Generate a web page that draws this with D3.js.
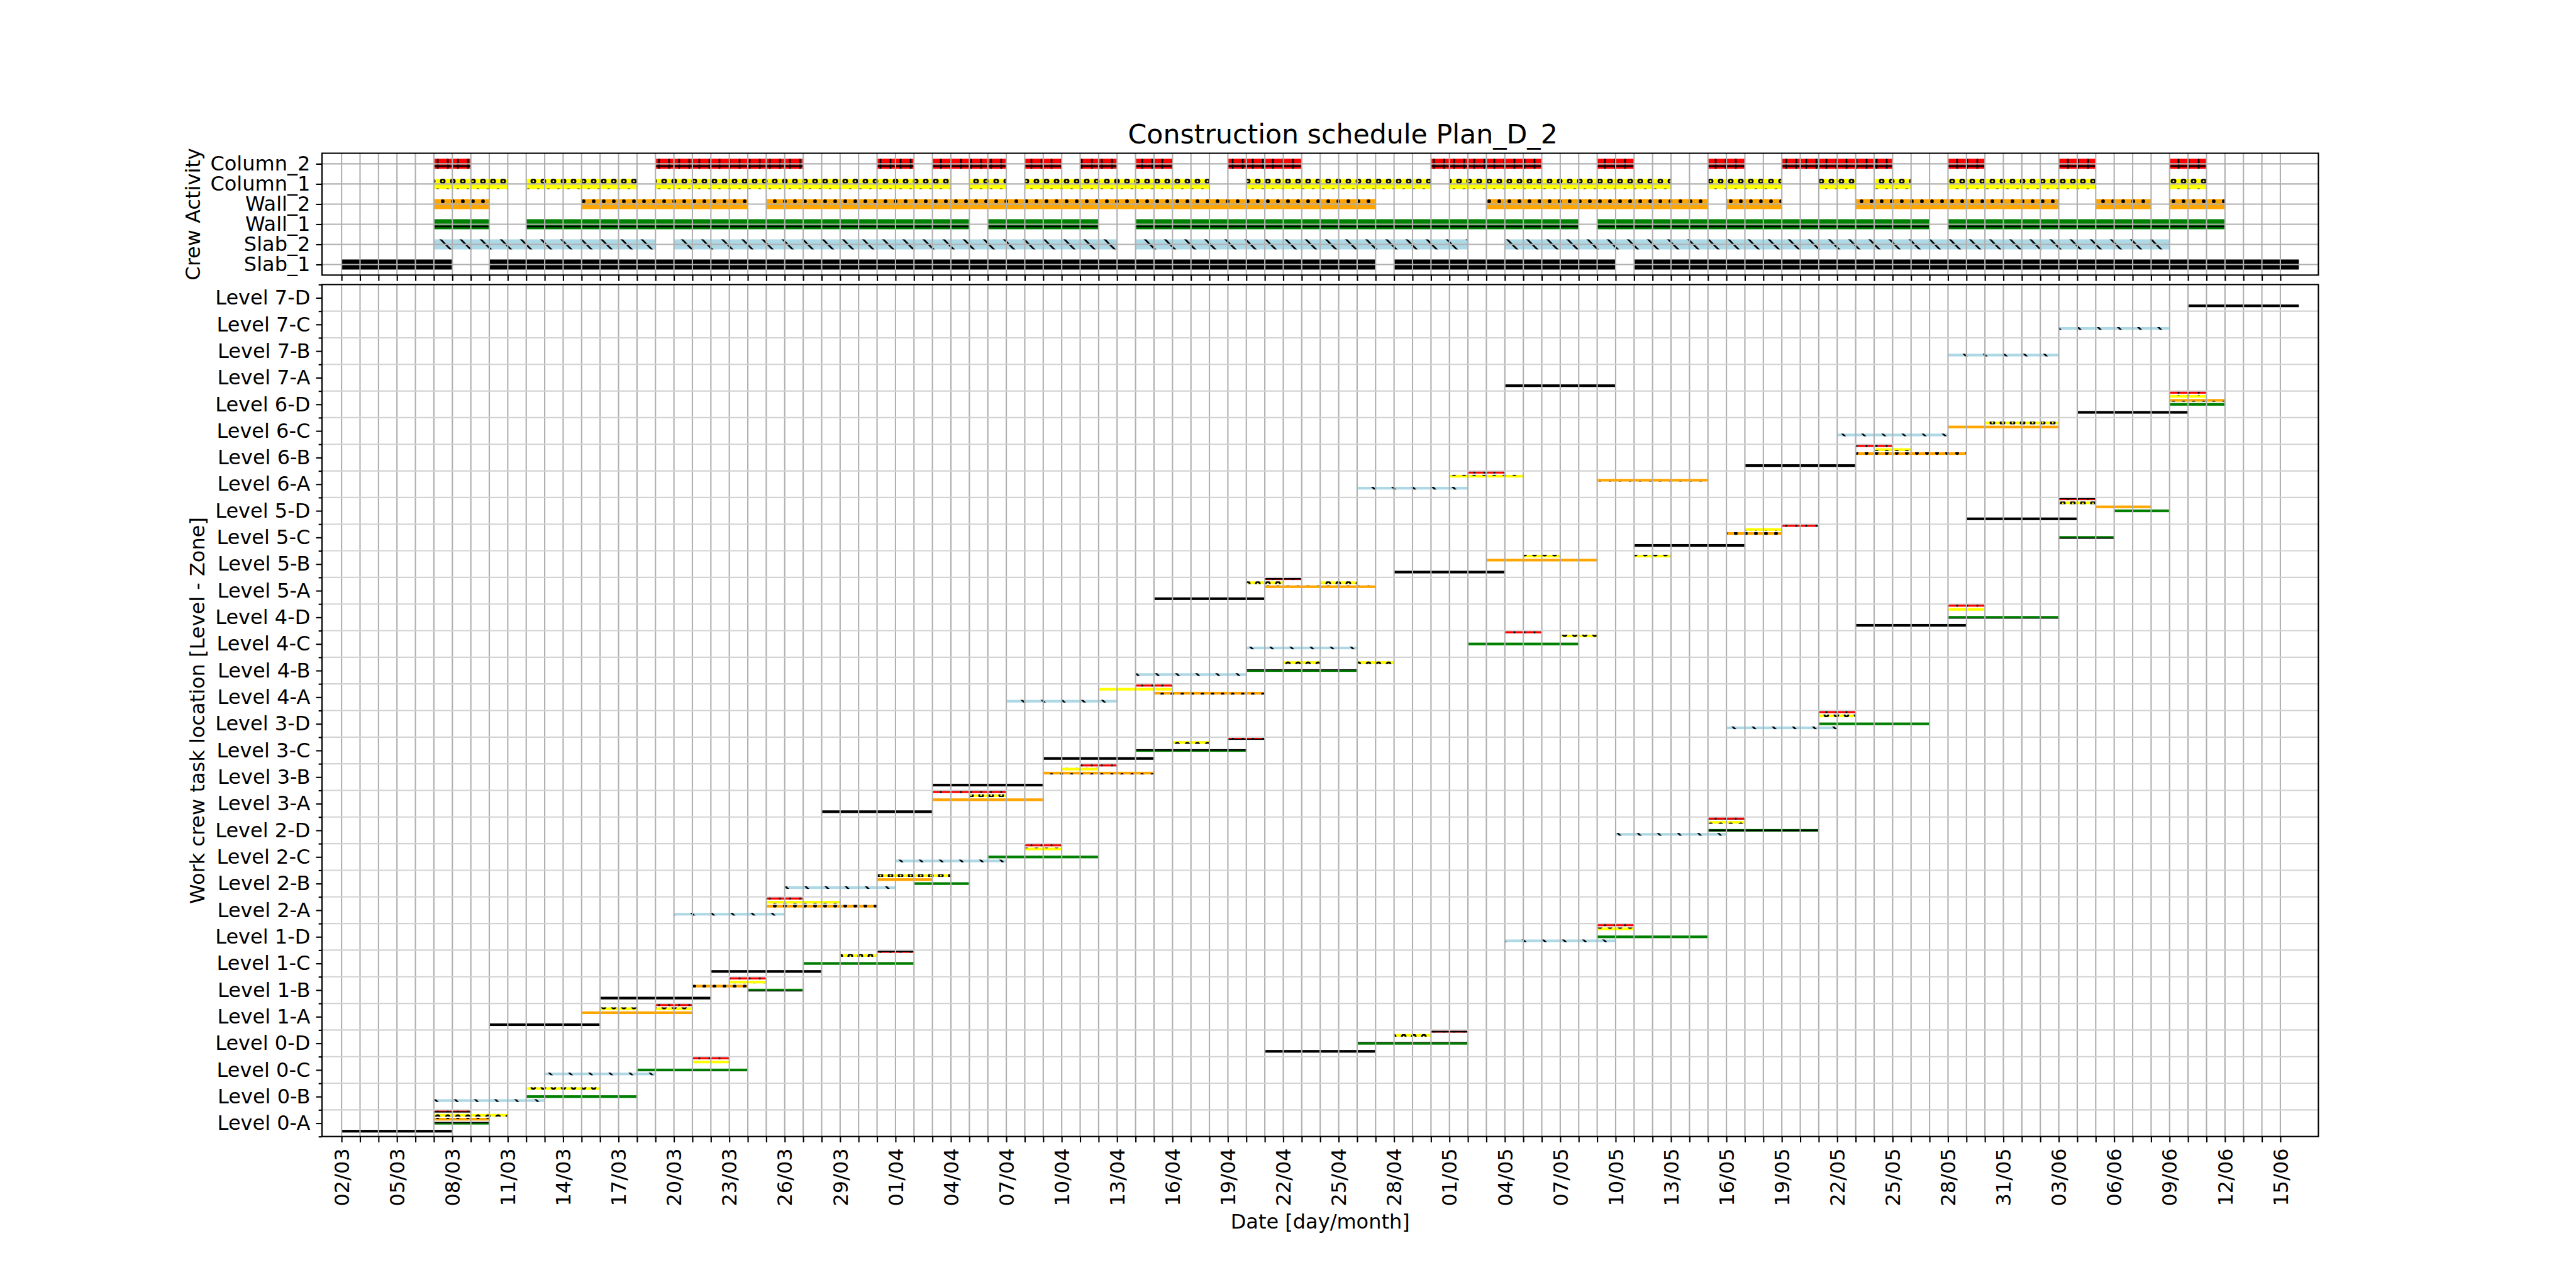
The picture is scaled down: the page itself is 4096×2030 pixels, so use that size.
<!DOCTYPE html>
<html><head><meta charset="utf-8">
<script src="https://cdnjs.cloudflare.com/ajax/libs/d3/7.8.5/d3.min.js"></script>
<style>body{margin:0;background:#fff}svg{display:block}</style>
</head><body>
<svg id="chart" width="4096" height="2030"></svg>
<script>
// ---------------- DATA ----------------
const levels = ["Level 0-A","Level 0-B","Level 0-C","Level 0-D","Level 1-A","Level 1-B","Level 1-C","Level 1-D",
  "Level 2-A","Level 2-B","Level 2-C","Level 2-D","Level 3-A","Level 3-B","Level 3-C","Level 3-D",
  "Level 4-A","Level 4-B","Level 4-C","Level 4-D","Level 5-A","Level 5-B","Level 5-C","Level 5-D",
  "Level 6-A","Level 6-B","Level 6-C","Level 6-D","Level 7-A","Level 7-B","Level 7-C","Level 7-D"];
const crews = ["Slab_1","Slab_2","Wall_1","Wall_2","Column_1","Column_2"];
const crewColors = ["black","lightblue","green","orange","yellow","red"];
const crewHatches = ["", "\\\\", "--", "..", "oo", "++"];
const xTickLabels = ["02/03","05/03","08/03","11/03","14/03","17/03","20/03","23/03","26/03","29/03",
  "01/04","04/04","07/04","10/04","13/04","16/04","19/04","22/04","25/04","28/04",
  "01/05","04/05","07/05","10/05","13/05","16/05","19/05","22/05","25/05","28/05","31/05",
  "03/06","06/06","09/06","12/06","15/06"];
const firstDay = "02/03", lastDay = "15/06";

// tasks: [level, start dd/mm, end dd/mm]
const slab1Tasks = [
  ["Level 0-A","02/03","08/03"],["Level 1-A","10/03","16/03"],["Level 1-B","16/03","22/03"],
  ["Level 1-C","22/03","28/03"],["Level 3-A","28/03","03/04"],["Level 3-B","03/04","09/04"],
  ["Level 3-C","09/04","15/04"],["Level 5-A","15/04","21/04"],["Level 0-D","21/04","27/04"],
  ["Level 5-B","28/04","04/05"],["Level 7-A","04/05","10/05"],["Level 5-C","11/05","17/05"],
  ["Level 6-B","17/05","23/05"],["Level 4-D","23/05","29/05"],["Level 5-D","29/05","04/06"],
  ["Level 6-D","04/06","10/06"],["Level 7-D","10/06","16/06"]];
const slab2Tasks = [
  ["Level 0-B","07/03","13/03"],["Level 0-C","13/03","19/03"],["Level 2-A","20/03","26/03"],
  ["Level 2-B","26/03","01/04"],["Level 2-C","01/04","07/04"],["Level 4-A","07/04","13/04"],
  ["Level 4-B","14/04","20/04"],["Level 4-C","20/04","26/04"],["Level 6-A","26/04","02/05"],
  ["Level 1-D","04/05","10/05"],["Level 2-D","10/05","16/05"],["Level 3-D","16/05","22/05"],
  ["Level 6-C","22/05","28/05"],["Level 7-B","28/05","03/06"],["Level 7-C","03/06","09/06"]];
const wall1Tasks = [
  ["Level 0-A","07/03","10/03"],["Level 0-B","12/03","18/03"],["Level 0-C","18/03","24/03"],
  ["Level 1-B","24/03","27/03"],["Level 1-C","27/03","02/04"],["Level 2-B","02/04","05/04"],
  ["Level 2-C","06/04","12/04"],["Level 3-C","14/04","20/04"],["Level 4-B","20/04","26/04"],
  ["Level 0-D","26/04","02/05"],["Level 4-C","02/05","08/05"],["Level 1-D","09/05","15/05"],
  ["Level 2-D","15/05","21/05"],["Level 3-D","21/05","27/05"],["Level 4-D","28/05","03/06"],
  ["Level 5-C","03/06","06/06"],["Level 5-D","06/06","09/06"],["Level 6-D","09/06","12/06"]];
const wall2Tasks = [
  ["Level 0-A","07/03","10/03"],["Level 1-A","15/03","21/03"],["Level 1-B","21/03","24/03"],
  ["Level 2-A","25/03","31/03"],["Level 2-B","31/03","03/04"],["Level 3-A","03/04","09/04"],
  ["Level 3-B","09/04","15/04"],["Level 4-A","15/04","21/04"],["Level 5-A","21/04","27/04"],
  ["Level 5-B","03/05","09/05"],["Level 6-A","09/05","15/05"],["Level 5-C","16/05","19/05"],
  ["Level 6-B","23/05","29/05"],["Level 6-C","28/05","03/06"],["Level 5-D","05/06","08/06"],
  ["Level 6-D","09/06","12/06"]];
const column1Tasks = [
  ["Level 0-A","07/03","11/03"],["Level 0-B","12/03","16/03"],["Level 1-A","16/03","18/03"],
  ["Level 1-A","19/03","21/03"],["Level 0-C","21/03","23/03"],["Level 1-B","23/03","25/03"],
  ["Level 2-A","25/03","29/03"],["Level 1-C","29/03","31/03"],["Level 2-B","31/03","04/04"],
  ["Level 3-A","05/04","07/04"],["Level 2-C","08/04","10/04"],["Level 3-B","10/04","12/04"],
  ["Level 4-A","12/04","16/04"],["Level 3-C","16/04","18/04"],["Level 5-A","20/04","22/04"],
  ["Level 4-B","22/04","24/04"],["Level 5-A","24/04","26/04"],["Level 4-B","26/04","28/04"],
  ["Level 0-D","28/04","30/04"],["Level 6-A","01/05","05/05"],["Level 5-B","05/05","07/05"],
  ["Level 4-C","07/05","09/05"],["Level 1-D","09/05","11/05"],["Level 5-B","11/05","13/05"],
  ["Level 2-D","15/05","17/05"],["Level 5-C","17/05","19/05"],["Level 3-D","21/05","23/05"],
  ["Level 6-B","24/05","26/05"],["Level 4-D","28/05","30/05"],["Level 6-C","30/05","03/06"],
  ["Level 5-D","03/06","05/06"],["Level 6-D","09/06","11/06"]];
const column2Tasks = [
  ["Level 0-A","07/03","09/03"],["Level 1-A","19/03","21/03"],["Level 0-C","21/03","23/03"],
  ["Level 1-B","23/03","25/03"],["Level 2-A","25/03","27/03"],["Level 1-C","31/03","02/04"],
  ["Level 3-A","03/04","07/04"],["Level 2-C","08/04","10/04"],["Level 3-B","11/04","13/04"],
  ["Level 4-A","14/04","16/04"],["Level 3-C","19/04","21/04"],["Level 5-A","21/04","23/04"],
  ["Level 0-D","30/04","02/05"],["Level 6-A","02/05","04/05"],["Level 4-C","04/05","06/05"],
  ["Level 1-D","09/05","11/05"],["Level 2-D","15/05","17/05"],["Level 5-C","19/05","21/05"],
  ["Level 3-D","21/05","23/05"],["Level 6-B","23/05","25/05"],["Level 4-D","28/05","30/05"],
  ["Level 5-D","03/06","05/06"],["Level 6-D","09/06","11/06"]];
const crewTasks = [slab1Tasks, slab2Tasks, wall1Tasks, wall2Tasks, column1Tasks, column2Tasks];

// ---------------- LAYOUT ----------------
const S = 0.64;
const L = 512, R = 3686.4;
const topT = 243.6, topB = 437.3, botT = 452.3, botB = 1806.7;
const YEAR = 2023, DAY = 86400000;
const parseDM = s => { const [d, m] = s.split("/").map(Number); return new Date(Date.UTC(YEAR, m - 1, d)); };
const d0 = parseDM(firstDay), dN = parseDM(lastDay);

const x = d3.scaleUtc().domain([new Date(+d0 - 1.06 * DAY), new Date(+dN + 2.06 * DAY)]).range([L, R]);
const yTop = d3.scaleLinear().domain([-0.525, 5.525]).range([topB, topT]);
const yBot = d3.scaleLinear().domain([-0.5, 31.5]).range([botB, botT]);

const svg = d3.select("#chart");
svg.append("rect").attr("width", 4096).attr("height", 2030).attr("fill", "#fff");
const FONT = "DejaVu Sans, Verdana, sans-serif";
const lw = 0.8 * 300 / 72 * S;          // 0.8pt at 300dpi
const hlw = 1.0 * 300 / 72 * S;         // hatch line width
const majLen = 3.5 * 300 / 72 * S, minLen = 2 * 300 / 72 * S, pad = 3.5 * 300 / 72 * S;
const fs = 12 * 300 / 72 * S;           // 12pt
const fsTitle = 16 * 300 / 72 * S;

// ---------------- HATCH PATTERNS (canvas anchored, 300dpi tile scaled) ----------------
const defs = svg.append("defs");
const U = 25 * S; // 16px unit
function pat(id, w, h, bg) {
  const p = defs.append("pattern").attr("id", id).attr("patternUnits", "userSpaceOnUse")
    .attr("x", 0).attr("y", 0).attr("width", w).attr("height", h);
  p.append("rect").attr("width", w).attr("height", h).attr("fill", bg);
  return p;
}
function makeHatch(i) {
  const h = crewHatches[i], c = crewColors[i], id = "hatch" + i;
  if (h === "++" || h === "--") {
    const p = pat(id, U, U, c);
    p.append("line").attr("x1", -1).attr("x2", U + 1).attr("y1", U / 2).attr("y2", U / 2)
      .attr("stroke", "black").attr("stroke-width", hlw);
    if (h === "++") p.append("line").attr("y1", -1).attr("y2", U + 1).attr("x1", U / 2).attr("x2", U / 2)
      .attr("stroke", "black").attr("stroke-width", hlw);
  } else if (h === "\\\\") {
    const T = 2 * U;
    const p = pat(id, T, T, c);
    [-T, 0, T].forEach(o => p.append("line").attr("x1", o - 10).attr("y1", -10).attr("x2", o + T + 10).attr("y2", T + 10)
      .attr("stroke", "black").attr("stroke-width", hlw));
  } else if (h === "oo" || h === "..") {
    const p = pat(id, U, 2 * U, c);
    const pts = [[0, 0], [U, 0], [0, 2 * U], [U, 2 * U], [U / 2, U]];
    pts.forEach(([cx, cy]) => {
      if (h === "oo") {
        const rOut = 5 * S + hlw / 2, rIn = 4.5 * S - hlw / 2;
        p.append("circle").attr("cx", cx).attr("cy", cy).attr("r", (rOut + rIn) / 2)
          .attr("fill", "none").attr("stroke", "black").attr("stroke-width", rOut - rIn);
      } else {
        p.append("circle").attr("cx", cx).attr("cy", cy).attr("r", 2.5 * S + hlw / 2).attr("fill", "black");
      }
    });
  }
  return h ? `url(#${id})` : c;
}
const fills = crews.map((c, i) => makeHatch(i));

// ---------------- TOP PANEL ----------------
const gTopBars = svg.append("g");
crews.forEach((c, k) => {
  gTopBars.selectAll(null).data(crewTasks[k]).join("rect")
    .attr("x", d => x(parseDM(d[1])))
    .attr("width", d => x(parseDM(d[2])) - x(parseDM(d[1])))
    .attr("y", yTop(k + 0.25))
    .attr("height", yTop(k - 0.25) - yTop(k + 0.25))
    .attr("fill", fills[k]);
});

// ---------------- BOTTOM PANEL ----------------
const offsets = crews.map((c, k) => (k - 2) * 0.15);
const barH = 0.1;
const gBotBars = svg.append("g");
crews.forEach((c, k) => {
  gBotBars.selectAll(null).data(crewTasks[k]).join("rect")
    .attr("x", d => x(parseDM(d[1])))
    .attr("width", d => x(parseDM(d[2])) - x(parseDM(d[1])))
    .attr("y", d => yBot(levels.indexOf(d[0]) + offsets[k] + barH / 2))
    .attr("height", d => yBot(levels.indexOf(d[0]) + offsets[k] - barH / 2) - yBot(levels.indexOf(d[0]) + offsets[k] + barH / 2))
    .attr("fill", fills[k]);
});

// ---------------- GRID ----------------
const days = d3.utcDay.range(d0, d3.utcDay.offset(dN, 1));
const grid = svg.append("g");
[[topT, topB], [botT, botB]].forEach(([t, b]) => {
  grid.selectAll(null).data(days).join("line")
    .attr("x1", d => x(d)).attr("x2", d => x(d)).attr("y1", t).attr("y2", b)
    .attr("stroke", "#b0b0b0").attr("stroke-width", lw);
});
grid.selectAll(null).data(d3.range(6)).join("line")
  .attr("x1", L).attr("x2", R).attr("y1", d => yTop(d)).attr("y2", d => yTop(d))
  .attr("stroke", "#b0b0b0").attr("stroke-width", lw);
grid.selectAll(null).data(d3.range(-0.5, 32, 1)).join("line")
  .attr("x1", L).attr("x2", R).attr("y1", d => yBot(d)).attr("y2", d => yBot(d))
  .attr("stroke", "#d3d3d3").attr("stroke-width", lw);

// ---------------- AXES ----------------
function styleAxis(g) {
  g.select(".domain").remove();
  g.selectAll(".tick line").attr("stroke", "black").attr("stroke-width", lw);
  g.selectAll("text").attr("font-family", FONT).attr("font-size", fs).attr("fill", "black");
}
const labelSet = new Set(xTickLabels);
const fmt = d3.utcFormat("%d/%m");
// top x ticks (no labels)
svg.append("g").attr("transform", `translate(0,${topB})`)
  .call(d3.axisBottom(x).tickValues(days).tickSize(majLen).tickSizeOuter(0).tickFormat(""))
  .call(styleAxis);
// bottom x ticks
const gx = svg.append("g").attr("transform", `translate(0,${botB})`)
  .call(d3.axisBottom(x).tickValues(days).tickSize(majLen).tickSizeOuter(0)
    .tickFormat(d => labelSet.has(fmt(d)) ? fmt(d) : ""))
  .call(styleAxis);
gx.selectAll(".tick text").attr("transform", "rotate(-90)").attr("text-anchor", "end")
  .attr("x", -(majLen + pad)).attr("y", 0).attr("dy", "0.35em");
// top y axis
svg.append("g").attr("transform", `translate(${L},0)`)
  .call(d3.axisLeft(yTop).tickValues(d3.range(6)).tickFormat(i => crews[i]).tickSize(majLen).tickPadding(pad).tickSizeOuter(0))
  .call(styleAxis);
// bottom y axis (major + minor)
svg.append("g").attr("transform", `translate(${L},0)`)
  .call(d3.axisLeft(yBot).tickValues(d3.range(32)).tickFormat(i => levels[i]).tickSize(majLen).tickPadding(pad).tickSizeOuter(0))
  .call(styleAxis);
svg.append("g").attr("transform", `translate(${L},0)`)
  .call(d3.axisLeft(yBot).tickValues(d3.range(-0.5, 32, 1)).tickFormat("").tickSize(minLen).tickSizeOuter(0))
  .call(styleAxis);

// spines
[[topT, topB], [botT, botB]].forEach(([t, b]) => {
  svg.append("rect").attr("x", L).attr("y", t).attr("width", R - L).attr("height", b - t)
    .attr("fill", "none").attr("stroke", "black").attr("stroke-width", lw);
});

// ---------------- TEXT ----------------
svg.append("text").attr("x", (L + R) / 2 + 36).attr("y", topT - 6 * 300 / 72 * S)
  .attr("text-anchor", "middle").attr("font-family", FONT).attr("font-size", fsTitle)
  .text("Construction schedule Plan_D_2");
svg.append("text").attr("x", (L + R) / 2).attr("y", 1953)
  .attr("text-anchor", "middle").attr("font-family", FONT).attr("font-size", fs)
  .text("Date [day/month]");
svg.append("text").attr("transform", `translate(307,${(topT + topB) / 2}) rotate(-90)`).attr("dy", "0.35em")
  .attr("text-anchor", "middle").attr("font-family", FONT).attr("font-size", fs)
  .text("Crew Activity");
svg.append("text").attr("transform", `translate(314,${(botT + botB) / 2}) rotate(-90)`).attr("dy", "0.35em")
  .attr("text-anchor", "middle").attr("font-family", FONT).attr("font-size", fs)
  .text("Work crew task location [Level - Zone]");
</script>
</body></html>
